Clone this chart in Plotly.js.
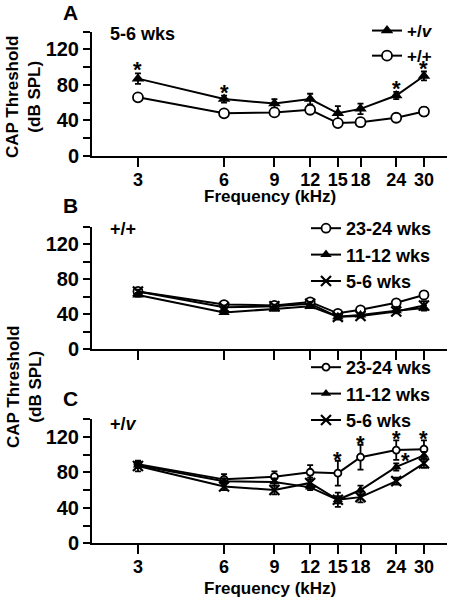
<!DOCTYPE html>
<html>
<head>
<meta charset="utf-8">
<script src="https://cdn.plot.ly/plotly-3.0.1.min.js"></script>
<style>html,body{margin:0;padding:0;background:#fff;}#chart{width:455px;height:600px;}</style>
</head>
<body>
<div id="chart"></div>
<script>
// ---- data ----
const freq = [3, 6, 9, 12, 15, 18, 24, 30];
const freqLabels = ['3', '6', '9', '12', '15', '18', '24', '30'];
const yTickVals = [0, 20, 40, 60, 80, 100, 120, 140];
const yTickText = ['0', '', '40', '', '80', '', '120', ''];

// Panel A: 5-6 wks
const aHetMean = [87, 64, 59, 64, 48, 53, 68, 90];
const aHetErr  = [6, 4, 5, 6, 8, 6, 4, 5];
const aWtMean  = [66, 48, 49, 52, 37, 38, 43, 50];
const aWtErr   = [2, 2, 2, 2, 3, 2, 2, 5];
const aStarFreq = [3, 6, 24, 30];

// Panel B: +/+
const bWt24Mean = [66, 51, 50, 54, 41, 45, 53, 62];
const bWt24Err  = [2, 3, 2, 2, 2, 2, 3, 4];
const bWt12Mean = [62, 42, 46, 49, 37, 39, 44, 47];
const bWt12Err  = [2, 2, 2, 2, 2, 2, 2, 3];
const bWt6Mean  = [66, 48, 49, 52, 37, 38, 43, 50];
const bWt6Err   = [2, 2, 2, 2, 3, 2, 2, 5];

// Panel C: +/v
const cHet24Mean = [89, 72, 75, 80, 79, 97, 105, 106];
const cHet24Err  = [3, 6, 6, 8, 14, 14, 11, 10];
const cHet12Mean = [88, 70, 69, 63, 49, 60, 86, 99];
const cHet12Err  = [3, 3, 4, 3, 4, 5, 4, 4];
const cHet6Mean  = [87, 64, 60, 68, 49, 52, 70, 90];
const cHet6Err   = [6, 4, 5, 6, 8, 6, 4, 5];
const cStarFreq  = [15, 18, 24, 30];
const cStar12Freq = [24];

const groupNames = ['23-24 wks', '11-12 wks', '5-6 wks'];

// ---- helpers ----
const W = 455, H = 600;
const FONT = 'Liberation Sans, Arial, Helvetica, sans-serif';
const px = v => v / W;
const py = v => 1 - v / H;

function errObj(arr) {
  return {type: 'data', array: arr, visible: true, color: '#000', thickness: 1.8, width: 3};
}
function trace(x, y, err, axis, name, legend, marker, showlegend) {
  return {
    x: x, y: y, error_y: errObj(err), xaxis: 'x' + axis, yaxis: 'y' + axis,
    type: 'scatter', mode: 'lines+markers', name: name, legend: legend,
    showlegend: showlegend, line: {color: '#000', width: 2}, marker: marker
  };
}
const triM = s => ({symbol: 'triangle-up', size: s, color: '#000', line: {color: '#000', width: 0}});
const circM = s => ({symbol: 'circle', size: s, color: '#fff', line: {color: '#000', width: 1.8}});
const xM = s => ({symbol: 'x-thin-open', size: s, color: '#000', line: {color: '#000', width: 2.2}});

const data = [
  trace(freq, aHetMean, aHetErr, '', '+/<i>v</i>', 'legend', triM(11), true),
  trace(freq, aWtMean, aWtErr, '', '+/+', 'legend', circM(10), true),
  trace(freq, bWt24Mean, bWt24Err, '2', groupNames[0], 'legend2', circM(9), true),
  trace(freq, bWt12Mean, bWt12Err, '2', groupNames[1], 'legend2', triM(10), true),
  trace(freq, bWt6Mean, bWt6Err, '2', groupNames[2], 'legend2', xM(10), true),
  trace(freq, cHet24Mean, cHet24Err, '3', groupNames[0], 'legend3', circM(7), true),
  trace(freq, cHet12Mean, cHet12Err, '3', groupNames[1], 'legend3', triM(9), true),
  trace(freq, cHet6Mean, cHet6Err, '3', groupNames[2], 'legend3', xM(10), true)
];

const xDomain = [px(92), px(447)];
const xRange = [0.3164, 1.5577];
function xAxis(anchor, showLabels) {
  return {
    type: 'log', domain: xDomain, range: xRange, anchor: anchor,
    tickvals: freq, ticktext: freqLabels, showticklabels: showLabels,
    ticks: 'outside', ticklen: 9, tickwidth: 2, tickcolor: '#000', ticklabelstandoff: -3,
    showline: true, linewidth: 2, linecolor: '#000', showgrid: false, zeroline: false,
    tickfont: {family: FONT, size: 18, color: '#000', weight: 'bold'}, fixedrange: true
  };
}
function yAxis(anchor, top, bottom) {
  return {
    domain: [py(bottom), py(top)], range: [0, 140], anchor: anchor,
    tickvals: yTickVals, ticktext: yTickText,
    ticks: 'outside', ticklen: 7, tickwidth: 2, tickcolor: '#000',
    showline: true, linewidth: 2, linecolor: '#000', showgrid: false, zeroline: false,
    tickfont: {family: FONT, size: 20, color: '#000', weight: 'bold'}, fixedrange: true
  };
}

function textAnn(text, x, y, size, xanchor, extra) {
  return Object.assign({
    text: text, xref: 'paper', yref: 'paper', x: px(x), y: py(y), showarrow: false,
    xanchor: xanchor || 'left', yanchor: 'middle',
    font: {family: FONT, size: size, color: '#000', weight: 'bold'}
  }, extra || {});
}

const annotations = [
  textAnn('A', 70, 12, 21, 'center'),
  textAnn('B', 70, 206, 21, 'center'),
  textAnn('C', 70, 398, 21, 'center'),
  textAnn('5-6 wks', 108, 34, 18),
  textAnn('+/+', 108, 229, 18),
  textAnn('+/<i>v</i>', 108, 424, 18),
  textAnn('CAP Threshold<br>(dB SPL)', 24, 97, 17, 'center', {textangle: -90}),
  textAnn('CAP Threshold<br>(dB SPL)', 24, 387, 17, 'center', {textangle: -90}),
  textAnn('Frequency (kHz)', 270, 196, 17, 'center'),
  textAnn('Frequency (kHz)', 270, 588, 17, 'center')
];

function starAnn(f, y, axis, xshift, yshift) {
  return {
    text: '*', x: Math.log10(f), y: y, xref: 'x' + axis, yref: 'y' + axis,
    showarrow: false, xanchor: 'center', yanchor: 'bottom', xshift: xshift, yshift: yshift,
    font: {family: FONT, size: 22, color: '#000', weight: 'bold'}
  };
}
aStarFreq.forEach(f => {
  const i = freq.indexOf(f);
  annotations.push(starAnn(f, aHetMean[i] + aHetErr[i], '', 0, -11));
});
cStarFreq.forEach(f => {
  const i = freq.indexOf(f);
  annotations.push(starAnn(f, cHet24Mean[i] + cHet24Err[i], '3', 0, -13));
});
cStar12Freq.forEach(f => {
  const i = freq.indexOf(f);
  annotations.push(starAnn(f, cHet12Mean[i], '3', 9, -8));
});

function legendAt(x, y, size) {
  return {
    x: px(x), y: py(y), xanchor: 'left', yanchor: 'top', bgcolor: 'rgba(0,0,0,0)',
    borderwidth: 0, itemwidth: 30, traceorder: 'normal',
    font: {family: FONT, size: size, color: '#000', weight: 'bold'}
  };
}

const layout = {
  width: W, height: H, margin: {l: 0, r: 0, t: 0, b: 0},
  paper_bgcolor: '#fff', plot_bgcolor: 'rgba(0,0,0,0)',
  showlegend: true,
  xaxis: xAxis('y', true), yaxis: yAxis('x', 31.5, 156),
  xaxis2: xAxis('y2', false), yaxis2: yAxis('x2', 226.5, 349.3),
  xaxis3: xAxis('y3', true), yaxis3: yAxis('x3', 419, 543.3),
  legend: legendAt(367, 13, 17),
  legend2: legendAt(306, 210, 18),
  legend3: legendAt(306, 349, 18),
  annotations: annotations
};

Plotly.newPlot('chart', data, layout, {displayModeBar: false, staticPlot: true});
</script>
</body>
</html>
